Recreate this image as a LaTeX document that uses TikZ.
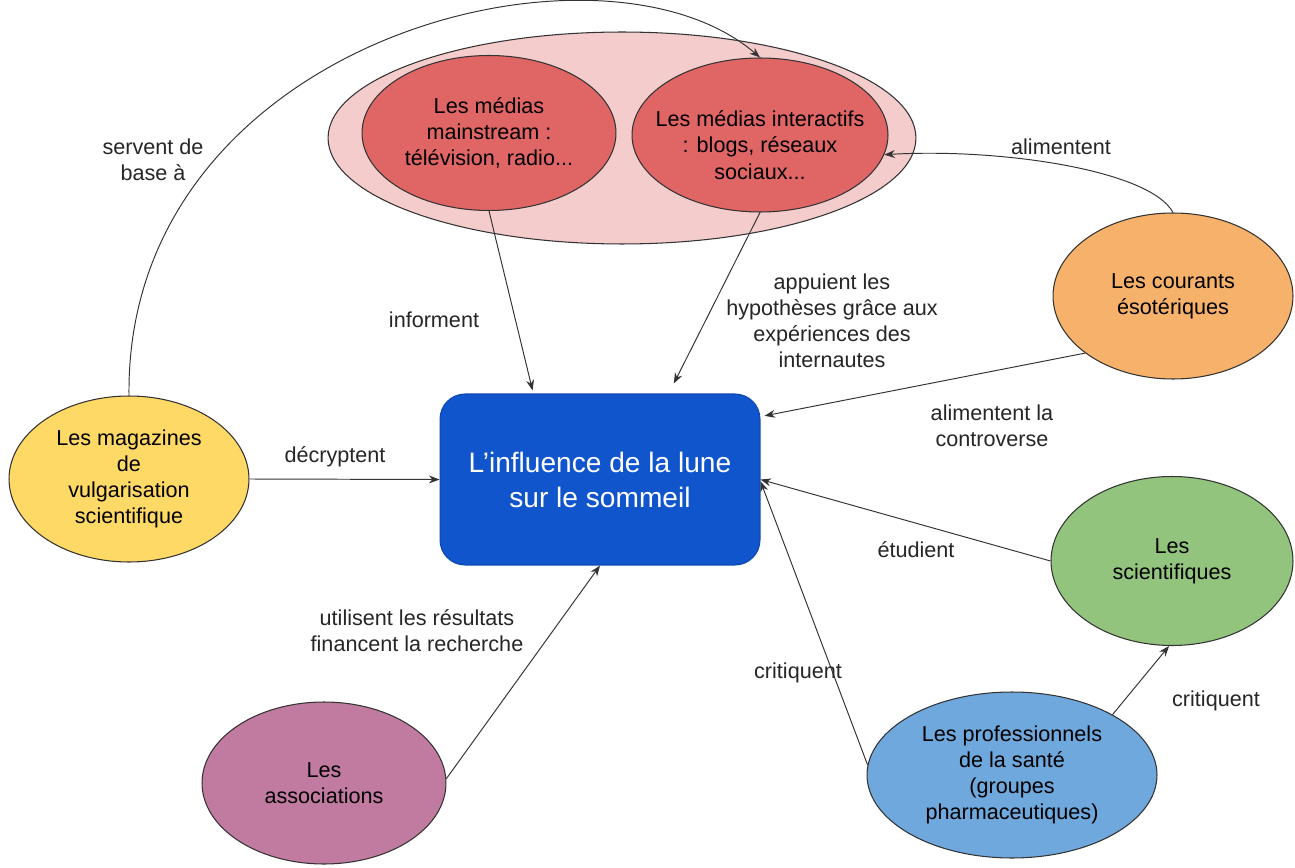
\documentclass[tikz,border=0pt]{standalone}
\usepackage{fontspec}
\setmainfont{Liberation Sans}
\usetikzlibrary{shapes.geometric,arrows.meta,calc}
\definecolor{pinkbg}{HTML}{F4CCCC}
\definecolor{redf}{HTML}{E06666}
\definecolor{boxblue}{HTML}{1155CC}
\definecolor{yellowf}{HTML}{FFD966}
\definecolor{orangef}{HTML}{F6B26B}
\definecolor{greenf}{HTML}{93C47D}
\definecolor{bluef}{HTML}{6FA8DC}
\definecolor{purplef}{HTML}{C27BA0}
\definecolor{edge}{HTML}{333333}
\tikzset{
  actor/.style={ellipse, draw=edge, line width=0.6pt, align=center, inner sep=0pt,
    font=\fontsize{12.3}{14.9}\selectfont, text=black},
  lbl/.style={align=center, inner sep=0pt, font=\fontsize{12.3}{14.9}\selectfont, text=black!85},
  conn/.style={draw=edge, line width=0.55pt, -{Stealth[length=6pt,width=4.5pt]}},
}
\begin{document}
\begin{tikzpicture}[x=0.02cm,y=-0.02cm]
\path[use as bounding box] (0,0) rectangle (1295,868);
\fill[white] (0,0) rectangle (1295,868);

% media group
\node[ellipse, draw=edge, line width=0.6pt, fill=pinkbg, minimum width=11.76cm, minimum height=4.24cm] (grp) at (622,138) {};
\node[actor, fill=redf, minimum width=5.08cm, minimum height=3.1cm] (ms) at (489,133) {Les médias\\mainstream :\\télévision, radio...};
\node[actor, fill=redf, minimum width=5.12cm, minimum height=3.08cm] (ia) at (760,135) {};
\node[align=center, inner sep=0pt, font=\fontsize{12.3}{14.9}\selectfont] (iat) at (760,145) {Les médias interactifs\\: blogs, réseaux\\sociaux...};

% central box
\node[draw=boxblue!85!black, line width=0.6pt, fill=boxblue, rounded corners=0.5cm, minimum width=6.4cm, minimum height=3.42cm,
  align=center, text=white, font=\fontsize{16}{19.9}\selectfont] (box) at (600,479.5) {L’influence de la lune\\sur le sommeil};

\node[actor, fill=yellowf, minimum width=4.8cm, minimum height=3.32cm] (yel) at (129,479) {Les magazines\\de\\vulgarisation\\scientifique};
\node[actor, fill=orangef, minimum width=4.8cm, minimum height=3.32cm] (eso) at (1173,296) {Les courants\\ésotériques};
\node[actor, fill=greenf, minimum width=4.84cm, minimum height=3.38cm] (sci) at (1172,561) {Les\\scientifiques};
\node[actor, fill=bluef, minimum width=5.8cm, minimum height=3.32cm] (pro) at (1012,775) {Les professionnels\\de la santé\\(groupes\\pharmaceutiques)};
\node[actor, fill=purplef, minimum width=4.88cm, minimum height=3.24cm] (asso) at (324,783) {Les\\associations};

% connectors
\draw[conn] (yel.north) .. controls (125,40) and (600,-80) .. (ia.north);
\draw[conn] (ms.south) -- ($(box.north west)!0.29!(box.north east)+(0,-3)$);
\draw[conn] (ia.south) -- ($(box.north west)!0.73!(box.north east)+(0,-10)$);
\draw[conn] (eso.north) .. controls (1150,170) and (1000,148) .. (ia.-9);
\draw[conn] (eso.213) -- ($(box.north east)!0.13!(box.south east)+(4,0)$);
\draw[conn] (yel.east) -- (box.west);
\draw[conn] (sci.west) -- ($(box.north east)!0.5!(box.south east)$);
\draw[conn] (pro.176) -- ($(box.north east)!0.51!(box.south east)$);
\draw[conn] (pro.31) -- (sci.-92);
\draw[conn] (asso.2) -- (box.south);

% labels
\node[lbl] (l1) at (153,160) {servent de\\base à};
\node[lbl] (l2) at (434,320) {informent};
\node[lbl] (l3) at (832,321) {appuient les\\hypothèses grâce aux\\expériences des\\internautes};
\node[lbl] (l4) at (1061,147) {alimentent};
\node[lbl] (l5) at (992,426) {alimentent la\\controverse};
\node[lbl] (l6) at (335,457) {décryptent};
\node[lbl] (l7) at (916,550) {étudient};
\node[lbl] (l8) at (798,673) {critiquent};
\node[lbl] (l9) at (1216,701) {critiquent};
\node[lbl] (l10) at (417,631) {utilisent les résultats\\financent la recherche};
\end{tikzpicture}
\end{document}
